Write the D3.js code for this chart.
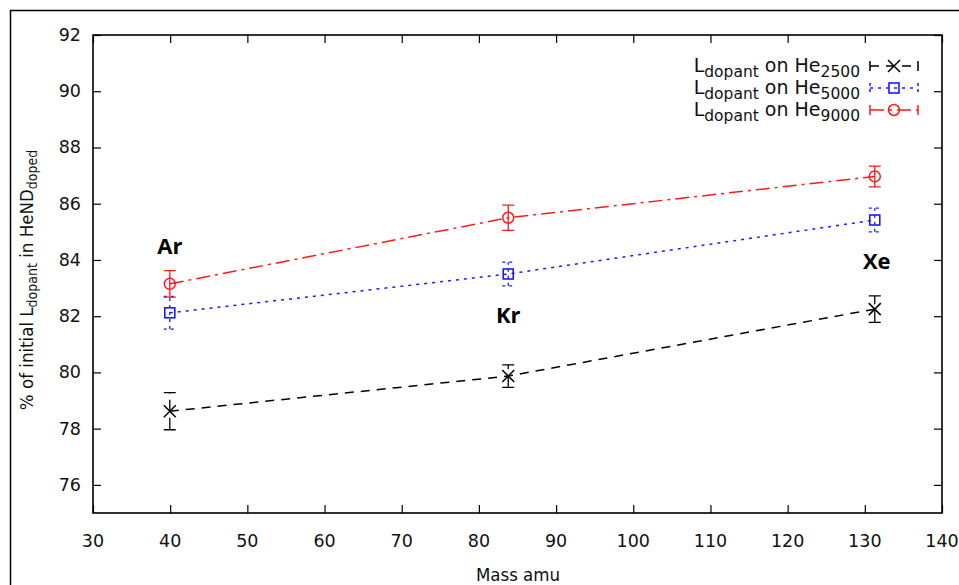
<!DOCTYPE html>
<html><head><meta charset="utf-8">
<script src="https://cdn.jsdelivr.net/npm/d3@7"></script>
<style>body{margin:0;background:#fff}svg{display:block}</style>
</head><body><svg id="c" width="959" height="585"></svg>
<script>
const masses = [39.95, 83.8, 131.29];
const elements = ["Ar", "Kr", "Xe"];
const he2500 = [78.62, 79.87, 82.25];
const he2500Err = [0.66, 0.4, 0.47];
const he5000 = [82.12, 83.5, 85.42];
const he5000Err = [0.58, 0.42, 0.42];
const he9000 = [83.15, 85.5, 86.97];
const he9000Err = [0.47, 0.45, 0.37];
const xTicks = [30,40,50,60,70,80,90,100,110,120,130,140];
const yTicks = [76,78,80,82,84,86,88,90,92];
const seriesNames = ["2500","5000","9000"];

const svg = d3.select("#c");
const L=93, R=942, T=35, B=513;
const x = d3.scaleLinear().domain([30,140]).range([L,R]);
const y = d3.scaleLinear().domain([75,92]).range([B,T]);
const font = "'DejaVu Sans',Verdana,sans-serif";
const fontC = "'DejaVu Sans Condensed','DejaVu Sans',sans-serif";

// outer frame
svg.append("rect").attr("x",10.5).attr("y",10.5).attr("width",970).attr("height",600)
  .attr("fill","none").attr("stroke","#000").attr("stroke-width",1.5);

// axes (ticks inward, mirrored)
const ax = svg.append("g");
const tl = 8;
ax.append("g").attr("transform",`translate(0,${B})`).call(d3.axisBottom(x).tickValues(xTicks).tickSize(-tl).tickFormat(""));
ax.append("g").attr("transform",`translate(0,${T})`).call(d3.axisTop(x).tickValues(xTicks).tickSize(-tl).tickFormat(""));
ax.append("g").attr("transform",`translate(${L},0)`).call(d3.axisLeft(y).tickValues(yTicks).tickSize(-tl).tickFormat(""));
ax.append("g").attr("transform",`translate(${R},0)`).call(d3.axisRight(y).tickValues(yTicks).tickSize(-tl).tickFormat(""));
ax.selectAll(".domain").remove();
ax.selectAll("line").attr("stroke","#000").attr("stroke-width",1.2);
svg.append("rect").attr("x",L).attr("y",T).attr("width",R-L).attr("height",B-T)
  .attr("fill","none").attr("stroke","#000").attr("stroke-width",1.6);

// tick labels
svg.append("g").selectAll("text").data(xTicks).join("text")
  .attr("x",d=>x(d)).attr("y",547).attr("text-anchor","middle")
  .attr("font-family",font).attr("font-size",17.5).attr("fill","#111").text(d=>d);
svg.append("g").selectAll("text").data(yTicks).join("text")
  .attr("x",81).attr("y",d=>y(d)+6).attr("text-anchor","end")
  .attr("font-family",font).attr("font-size",17.5).attr("fill","#111").text(d=>d);

// axis titles
svg.append("text").attr("x",518).attr("y",581).attr("text-anchor","middle")
  .attr("font-family",fontC).attr("font-size",18.5).attr("fill","#111").text("Mass amu");
const yt = svg.append("text").attr("transform","translate(33,280) rotate(-90)").attr("text-anchor","middle")
  .attr("font-family",fontC).attr("font-size",18.5).attr("fill","#111");
yt.append("tspan").text("% of initial L");
yt.append("tspan").attr("font-size",14).attr("dy",4).text("dopant");
yt.append("tspan").attr("dy",-4).text(" in HeND");
yt.append("tspan").attr("font-size",14).attr("dy",4).text("doped");

// series
const series = [
  {name:seriesNames[0], vals:he2500, err:he2500Err, color:"#000", dash:"9,7", marker:"x"},
  {name:seriesNames[1], vals:he5000, err:he5000Err, color:"#1a1aff", dash:"3,5", marker:"sq"},
  {name:seriesNames[2], vals:he9000, err:he9000Err, color:"#ff1a1a", dash:"14,5,3,5", marker:"o"}
];
const line = d3.line().x((d,i)=>x(masses[i])).y(d=>y(d));
function marker(g, m, cx, cy, color){
  if(m==="x"){
    g.append("path").attr("d",`M${cx-6},${cy-6}L${cx+6},${cy+6}M${cx-6},${cy+6}L${cx+6},${cy-6}`)
      .attr("stroke",color).attr("stroke-width",1.5).attr("fill","none");
  } else if(m==="sq"){
    g.append("rect").attr("x",cx-5).attr("y",cy-5).attr("width",10).attr("height",10)
      .attr("fill","none").attr("stroke",color).attr("stroke-width",1.6);
  } else {
    g.append("circle").attr("cx",cx).attr("cy",cy).attr("r",5.5)
      .attr("fill","none").attr("stroke",color).attr("stroke-width",1.5);
  }
}
series.forEach(s=>{
  const g = svg.append("g");
  g.append("path").datum(s.vals).attr("d",line).attr("fill","none")
    .attr("stroke",s.color).attr("stroke-width",1.5).attr("stroke-dasharray",s.dash);
  s.vals.forEach((v,i)=>{
    const cx=x(masses[i]), y1=y(v-s.err[i]), y2=y(v+s.err[i]);
    g.append("path").attr("d",`M${cx},${y1}L${cx},${y2}M${cx-6},${y1}L${cx+6},${y1}M${cx-6},${y2}L${cx+6},${y2}`)
      .attr("stroke",s.color).attr("stroke-width",1.3).attr("fill","none")
      .attr("stroke-dasharray", s.marker==="sq" ? "3,4" : (s.marker==="x" ? "12,6" : null));
    marker(g, s.marker, cx, y(v), s.color);
  });
});

// element labels
const labelPos = [[x(masses[0]), 254],[x(masses[1]), 323],[x(masses[2])+2, 269]];
svg.append("g").selectAll("text").data(elements).join("text")
  .attr("x",(d,i)=>labelPos[i][0]).attr("y",(d,i)=>labelPos[i][1]).attr("text-anchor","middle")
  .attr("font-family","'Open Sans','DejaVu Sans',sans-serif").attr("font-weight","bold")
  .attr("font-size",22).attr("fill","#000").text(d=>d);

// legend
series.forEach((s,i)=>{
  const ly = 66 + i*22;
  const t = svg.append("text").attr("x",860).attr("y",ly+6).attr("text-anchor","end")
    .attr("font-family",font).attr("font-size",19).attr("fill","#111");
  t.append("tspan").text("L");
  t.append("tspan").attr("font-size",15.5).attr("dy",5).text("dopant");
  t.append("tspan").attr("dy",-5).text(" on He");
  t.append("tspan").attr("font-size",15.5).attr("dy",5).text(s.name);
  const g = svg.append("g");
  g.append("path").attr("d",`M870,${ly}L918,${ly}`).attr("stroke",s.color).attr("stroke-width",1.5)
    .attr("stroke-dasharray",s.dash);
  g.append("path").attr("d",`M870,${ly-5}L870,${ly+5}M918,${ly-5}L918,${ly+5}`).attr("stroke",s.color).attr("stroke-width",1.5)
    .attr("stroke-dasharray", s.marker==="sq" ? "3,3" : null);
  marker(g, s.marker, 894, ly, s.color);
});
</script></body></html>
